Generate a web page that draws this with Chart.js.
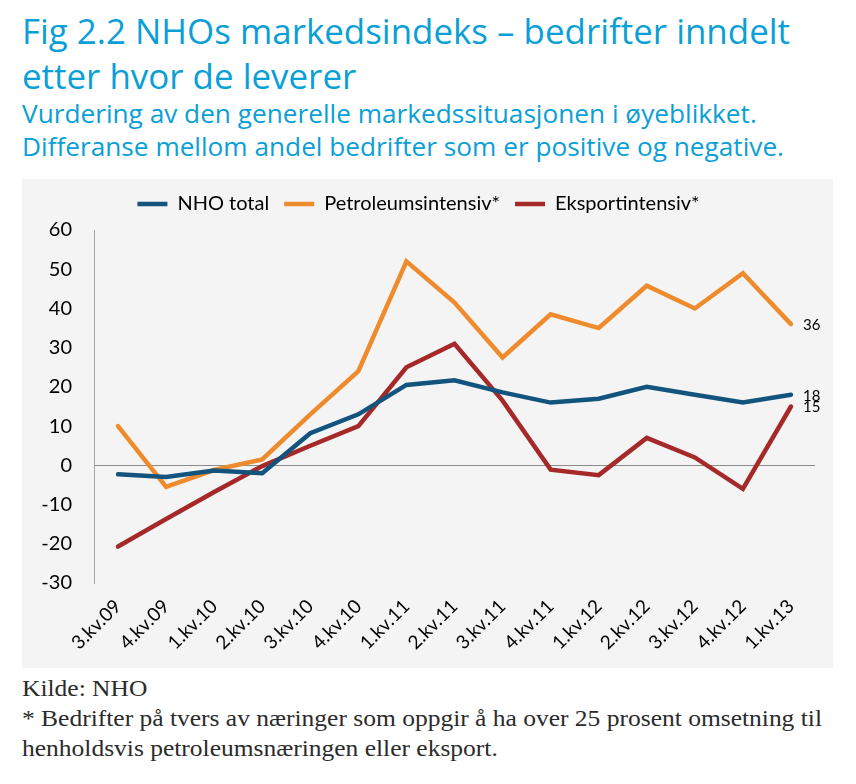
<!DOCTYPE html>
<html>
<head>
<meta charset="utf-8">
<script src="https://cdn.jsdelivr.net/npm/chart.js@4.4.1/dist/chart.umd.min.js"></script>
<style>
  html, body { margin: 0; padding: 0; background: #ffffff; }
  body { width: 856px; height: 784px; position: relative; overflow: hidden; }
  .t { position: absolute; left: 22px; white-space: nowrap; transform-origin: 0 0; }
  .title { font-family: "Open Sans", "Noto Sans", sans-serif; font-size: 35px; line-height: 35px; color: #0a9fd6; }
  .sub { font-family: "Open Sans", "Noto Sans", sans-serif; font-size: 26px; line-height: 26px; color: #0a9fd6; }
  .foot { font-family: "Liberation Serif", "DejaVu Serif", serif; font-size: 24px; line-height: 24px; color: #2b2b2b; }
  #panel { position: absolute; left: 22px; top: 179px; width: 811px; height: 489px; background: #f4f4f4; }
  #panel canvas { display: block; }
</style>
</head>
<body>
<div class="t title" id="t1" style="top:13px">Fig 2.2 NHOs markedsindeks – bedrifter inndelt</div>
<div class="t title" id="t2" style="top:58px">etter hvor de leverer</div>
<div class="t sub" id="s1" style="top:100px">Vurdering av den generelle markedssituasjonen i øyeblikket.</div>
<div class="t sub" id="s2" style="top:133px">Differanse mellom andel bedrifter som er positive og negative.</div>
<div id="panel"><canvas id="c" width="811" height="489"></canvas></div>
<div class="t foot" id="f1" style="top:676px">Kilde: NHO</div>
<div class="t foot" id="f2" style="top:706px">* Bedrifter på tvers av næringer som oppgir å ha over 25 prosent omsetning til</div>
<div class="t foot" id="f3" style="top:736px">henholdsvis petroleumsnæringen eller eksport.</div>
<script>
// ---- data ----
const categories = ['3.kv.09','4.kv.09','1.kv.10','2.kv.10','3.kv.10','4.kv.10','1.kv.11','2.kv.11','3.kv.11','4.kv.11','1.kv.12','2.kv.12','3.kv.12','4.kv.12','1.kv.13'];
const nhoTotal   = [-2.3, -3, -1.3, -2, 8.2, 13, 20.5, 21.7, 18.6, 16, 17, 20, 18, 16, 18];
const petroleum  = [10, -5.5, -1.2, 1.5, 13, 24, 52, 41.5, 27.5, 38.5, 35, 45.8, 40, 49, 36];
const eksport    = [-20.7, -13.7, -6.8, -0.2, 5, 10, 25, 31, 16.5, -1.1, -2.5, 7, 2, -6, 15];
const seriesNames = ['NHO total', 'Petroleumsintensiv*', 'Eksportintensiv*'];
const endLabels = ['18', '36', '15'];
const yTicks = { min: -30, max: 60, step: 10 };

// ---- fit text widths (horizontal scale only) ----
function fitGroup(ids, refId, target) {
  const ref = document.getElementById(refId);
  const k = target / ref.getBoundingClientRect().width;
  ids.forEach(id => { document.getElementById(id).style.transform = 'scaleX(' + k + ')'; });
}
fitGroup(['t1','t2'], 't1', 768);
fitGroup(['s1','s2'], 's2', 762);
fitGroup(['f1','f2','f3'], 'f2', 800);

// ---- chart ----
Chart.defaults.color = '#000';
Chart.defaults.font.family = 'Lato, "Open Sans", sans-serif';

const legendSpacer = {
  id: 'legendSpacer',
  beforeInit(chart) {
    const lg = chart.legend;
    if (!lg) return;
    const fit = lg.fit;
    lg.fit = function () { fit.call(this); this.height = 51; };
  }
};

const endLabelPlugin = {
  id: 'endLabels',
  afterDatasetsDraw(chart) {
    const ctx = chart.ctx;
    ctx.save();
    ctx.font = '15px Lato, "Open Sans", sans-serif';
    ctx.fillStyle = '#000';
    ctx.textAlign = 'left';
    ctx.textBaseline = 'middle';
    chart.data.datasets.forEach((ds, i) => {
      const meta = chart.getDatasetMeta(i);
      const pt = meta.data[meta.data.length - 1];
      ctx.fillText(endLabels[i], pt.x + 12, pt.y + 1);
    });
    ctx.restore();
  }
};

const lineCommon = { borderWidth: 4.5, pointRadius: 0, pointHoverRadius: 0, tension: 0, fill: false, borderCapStyle: 'round', borderJoinStyle: 'miter' };

new Chart(document.getElementById('c'), {
  type: 'line',
  data: {
    labels: categories,
    datasets: [
      Object.assign({ label: seriesNames[0], data: nhoTotal, borderColor: '#12547e', backgroundColor: '#12547e' }, lineCommon),
      Object.assign({ label: seriesNames[1], data: petroleum, borderColor: '#ee8c2d', backgroundColor: '#ee8c2d' }, lineCommon),
      Object.assign({ label: seriesNames[2], data: eksport, borderColor: '#a6292a', backgroundColor: '#a6292a' }, lineCommon)
    ]
  },
  plugins: [legendSpacer, endLabelPlugin],
  options: {
    responsive: false,
    animation: false,
    layout: { padding: { left: 0, right: 18, top: 0, bottom: 0 } },
    plugins: {
      legend: {
        position: 'top',
        labels: {
          font: { size: 20 },
          color: '#000',
          usePointStyle: true,
          pointStyle: 'line',
          pointStyleWidth: 30,
          padding: 15
        }
      },
      tooltip: { enabled: false }
    },
    scales: {
      x: {
        offset: true,
        grid: { display: false, drawTicks: false },
        border: { display: false },
        ticks: { font: { size: 19 }, color: '#000', minRotation: 45, maxRotation: 45, padding: 12, autoSkip: false },
        afterFit(s) { s.height = 85; }
      },
      y: {
        min: yTicks.min, max: yTicks.max,
        grid: {
          drawTicks: false,
          color: c => (c.tick && c.tick.value === 0) ? '#8c8c8c' : 'rgba(0,0,0,0)',
          lineWidth: 1
        },
        border: { display: true, color: '#a6a6a6', width: 1 },
        ticks: { stepSize: yTicks.step, font: { size: 20 }, color: '#000', padding: 22 },
        afterFit(s) { s.width = 72; }
      }
    }
  }
});
</script>
</body>
</html>
